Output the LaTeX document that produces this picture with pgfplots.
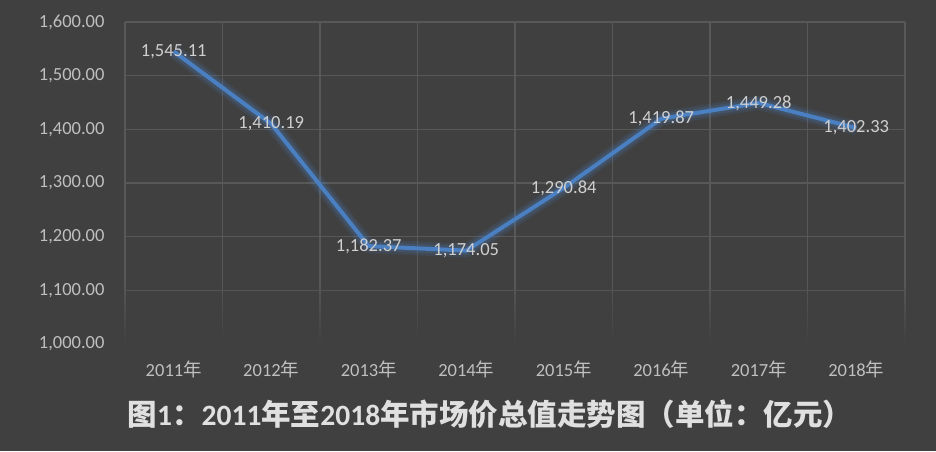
\documentclass[border=0pt]{standalone}
\usepackage{fontspec}
\setmainfont{Carlito}
\newfontfamily\cjk{Noto Sans CJK SC}
\usepackage{pgfplots}
\pgfplotsset{compat=1.18}
\usetikzlibrary{fadings}

\definecolor{bg}{HTML}{404040}
\definecolor{gridc}{HTML}{585858}
\definecolor{tickc}{HTML}{BFBFBF}
\definecolor{labc}{HTML}{D0D0D0}
\definecolor{linec}{HTML}{4A7FC1}
\definecolor{titlec}{HTML}{E0E0E0}

\pgfplotstableread{
x y
0 1545.11
1 1410.19
2 1182.37
3 1174.05
4 1290.84
5 1419.87
6 1449.28
7 1402.33
}\values

\begin{document}
\begin{tikzpicture}[x=1pt,y=1pt]
\fill[bg] (0,0) rectangle (936,451);
\begin{axis}[
    at={(125pt,107pt)}, anchor=south west,
    scale only axis, width=780pt, height=322pt,
    xmin=-0.5, xmax=7.5, ymin=1000, ymax=1600,
    xtick={0,...,7},
    xticklabels={2011{\cjk 年},2012{\cjk 年},2013{\cjk 年},2014{\cjk 年},2015{\cjk 年},2016{\cjk 年},2017{\cjk 年},2018{\cjk 年}},
    minor xtick={-0.5,0.5,...,7.5},
    ytick={1000,1100,...,1600},
    xminorgrids, ymajorgrids,
    grid style={draw=gridc, line width=1.2pt},
    minor grid style={draw=gridc, line width=1.2pt},
    axis line style={draw=none},
    major tick length=0pt, minor tick length=0pt,
    /pgf/number format/assume math mode=true,
    /pgf/number format/.cd, fixed, fixed zerofill, precision=2, 1000 sep={,},
    /pgfplots/.cd,
    ticklabel style={text=tickc, font=\fontsize{18.5}{20}\selectfont},
    yticklabel style={xshift=-17pt},
    xticklabel style={yshift=-13pt},
    clip=false,
]
% fade of the lower grid, as in the reference
\fill[bg, path fading=north] (axis cs:-0.6,999) rectangle (axis cs:7.6,1115);
\addplot[draw=linec, line width=14pt, opacity=0.14, line join=round, forget plot] table[x=x,y=y] {\values};
\addplot[draw=linec, line width=9pt, opacity=0.2, line join=round, forget plot] table[x=x,y=y] {\values};
\addplot[draw=linec, line width=4pt, line join=round,
    nodes near coords,
    nodes near coords style={anchor=center, text=labc, font=\fontsize{18.5}{20}\selectfont,
        /pgf/number format/fixed, /pgf/number format/fixed zerofill,
        /pgf/number format/precision=2, /pgf/number format/1000 sep={,}},
    ] table[x=x,y=y] {\values};
\end{axis}
\node[text=titlec, font=\bfseries\fontsize{29.5}{32}\selectfont] at (490,37)
    {{\cjk 图}1{\cjk ：}2011{\cjk 年至}2018{\cjk 年市场价总值走势图（单位：亿元）}};
\end{tikzpicture}
\end{document}
